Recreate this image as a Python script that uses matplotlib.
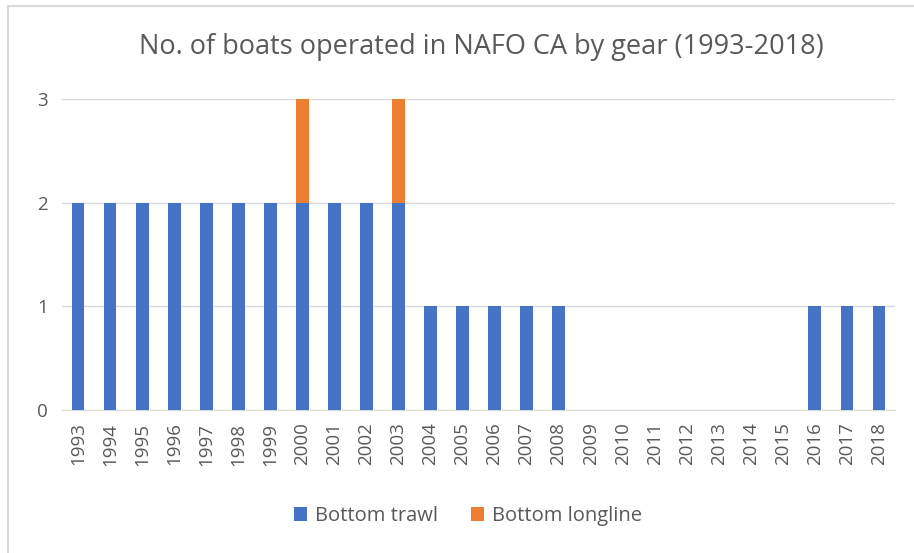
import matplotlib.pyplot as plt
import numpy as np

years = [str(y) for y in range(1993, 2019)]
bottom_trawl = [2, 2, 2, 2, 2, 2, 2, 2, 2, 2, 2, 1, 1, 1, 1, 1,
                0, 0, 0, 0, 0, 0, 0, 1, 1, 1]
bottom_longline = [0, 0, 0, 0, 0, 0, 0, 1, 0, 0, 1, 0, 0, 0, 0, 0,
                   0, 0, 0, 0, 0, 0, 0, 0, 0, 0]

plt.rcParams['font.family'] = ['Open Sans', 'DejaVu Sans']
txt = '#595959'

fig = plt.figure(figsize=(9.14, 5.53), dpi=100)
ax = fig.add_axes([62/914, 1-410/553, (895-62)/914, (410-99)/553])

x = np.arange(len(years))
ax.bar(x, bottom_trawl, width=0.4, color='#4472C4', label='Bottom trawl', zorder=3)
ax.bar(x, bottom_longline, width=0.4, bottom=bottom_trawl, color='#ED7D31',
       label='Bottom longline', zorder=3)

ax.set_xlim(-0.5, len(years) - 0.5)
ax.set_ylim(0, 3)
ax.set_yticks([0, 1, 2, 3])
ax.set_xticks(x)
ax.set_xticklabels(years, rotation=90)
ax.tick_params(axis='both', length=0, labelsize=13.5, colors=txt)
ax.tick_params(axis='y', pad=10)
ax.tick_params(axis='x', pad=9)
ax.grid(axis='y', color='#D9D9D9', linewidth=1, zorder=0)
for s in ['top', 'right', 'left']:
    ax.spines[s].set_visible(False)
ax.spines['bottom'].set_color('#D9D9D9')

fig.text(481/914, 1-47/553, 'No. of boats operated in NAFO CA by gear (1993-2018)',
         ha='center', va='center', fontsize=19.5, color=txt)

fig.legend(loc='center', bbox_to_anchor=(468/914, 1-516/553), ncol=2, frameon=False,
           fontsize=14.5, labelcolor=txt, handlelength=0.65, handleheight=0.65,
           columnspacing=1.6, handletextpad=0.4)

# chart frame (only top and left edges fall inside the image)
fig.add_artist(plt.Line2D([8/914, 8/914], [0, 1-5.5/553], color='#D9D9D9', lw=1.5))
fig.add_artist(plt.Line2D([8/914, 1], [1-5.5/553, 1-5.5/553], color='#D9D9D9', lw=1.5))

fig.savefig('out.png', dpi=100)
